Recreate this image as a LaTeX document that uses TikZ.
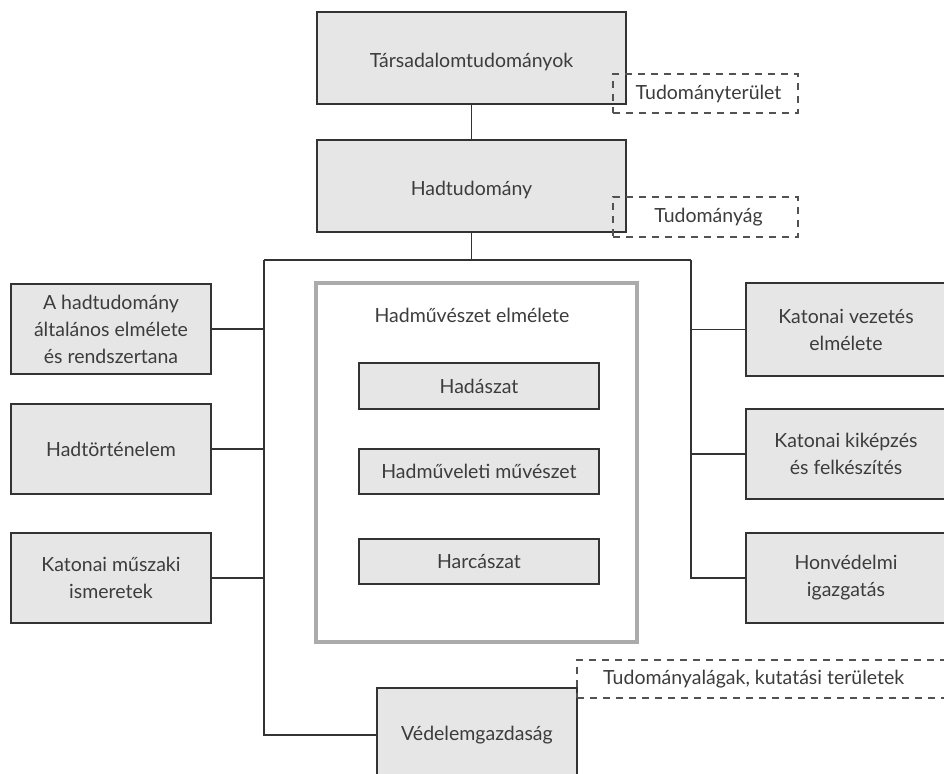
\documentclass[tikz,border=0pt]{standalone}
\usepackage{fontspec}
\setmainfont{Lato}
\definecolor{boxfill}{HTML}{E6E6E6}
\definecolor{ink}{HTML}{333333}
\definecolor{txt}{HTML}{3C3C3C}
\definecolor{framegray}{HTML}{ABABAB}
\begin{document}
\begin{tikzpicture}[x=1pt,y=-1pt,
  every node/.style={font=\fontsize{19.5}{27}\selectfont, text=txt},
  gbox/.style={draw=ink, line width=1.1pt, fill=boxfill, align=center, inner sep=0pt},
  dbox/.style={draw=ink!85, line width=1.1pt, dash pattern=on 7pt off 6pt, align=center, inner sep=0pt},
  conn/.style={draw=ink, line width=1.1pt},
  lowtext/.style={label={[anchor=center, yshift=-4pt]center:#1}}
]
\useasboundingbox (0,0) rectangle (944,773);
\clip (0,0) rectangle (944,773);
\fill[white] (0,0) rectangle (944,773);

% top boxes
\node[gbox, minimum width=309pt, minimum height=92pt, lowtext={Társadalomtudományok}] (tars) at (471.5,58) {};
\node[gbox, minimum width=309pt, minimum height=92pt, lowtext={Hadtudomány}] (had) at (471.5,186) {};

% dashed labels
\node[dbox, minimum width=185pt, minimum height=39pt] (d1) at (705.5,93.5) {\hspace*{6pt}Tudományterület};
\node[dbox, minimum width=185pt, minimum height=40pt] (d2) at (705.5,217) {\hspace*{6pt}Tudományág};

% central frame
\node[draw=framegray, line width=4pt, fill=white, minimum width=321pt, minimum height=359pt, inner sep=0pt] (frame) at (476.5,462.5) {};
\node (ftitle) at (472,315) {Hadművészet elmélete};
\node[gbox, minimum width=240pt, minimum height=46pt] (c1) at (479,386) {Hadászat};
\node[gbox, minimum width=240pt, minimum height=45pt] (c2) at (479,471.5) {Hadműveleti művészet};
\node[gbox, minimum width=240pt, minimum height=45pt] (c3) at (479,561.5) {Harcászat};

% left boxes
\node[gbox, minimum width=200pt, minimum height=90pt] (l1) at (111,329) {A hadtudomány\\általános elmélete\\és rendszertana};
\node[gbox, minimum width=200pt, minimum height=90pt] (l2) at (111,449) {Hadtörténelem};
\node[gbox, minimum width=200pt, minimum height=90pt] (l3) at (111,578) {Katonai műszaki\\ismeretek};

% right boxes
\node[gbox, minimum width=200pt, minimum height=93pt] (r1) at (846,329.5) {Katonai vezetés\\elmélete};
\node[gbox, minimum width=200pt, minimum height=90pt] (r2) at (846,454) {Katonai kiképzés\\és felkészítés};
\node[gbox, minimum width=200pt, minimum height=90pt] (r3) at (846,578) {Honvédelmi\\igazgatás};

% bottom
\node[gbox, minimum width=200pt, minimum height=94pt] (ved) at (477,735) {Védelemgazdaság};
\node[dbox, minimum width=400pt, minimum height=38pt] (d3) at (777,679) {};
\node[anchor=west, inner sep=0pt] (d3t) at (603,679) {Tudományalágak, kutatási területek};

% bus coordinates
\coordinate (busL) at (264,260);
\coordinate (busR) at (691,260);

% connectors
\draw[conn] (tars.south) -- (had.north);
\draw[conn] (had.south) -- (had.south |- busL);
\draw[conn] (busL) -- (busR);
\draw[conn] (busL) |- (ved.west);
\draw[conn] (busR) |- (r3.west);
\draw[conn] (l1.east) -- (l1.east -| busL);
\draw[conn] (l2.east) -- (l2.east -| busL);
\draw[conn] (l3.east) -- (l3.east -| busL);
\draw[conn] (r1.west) -- (r1.west -| busR);
\draw[conn] (r2.west) -- (r2.west -| busR);
\end{tikzpicture}
\end{document}
